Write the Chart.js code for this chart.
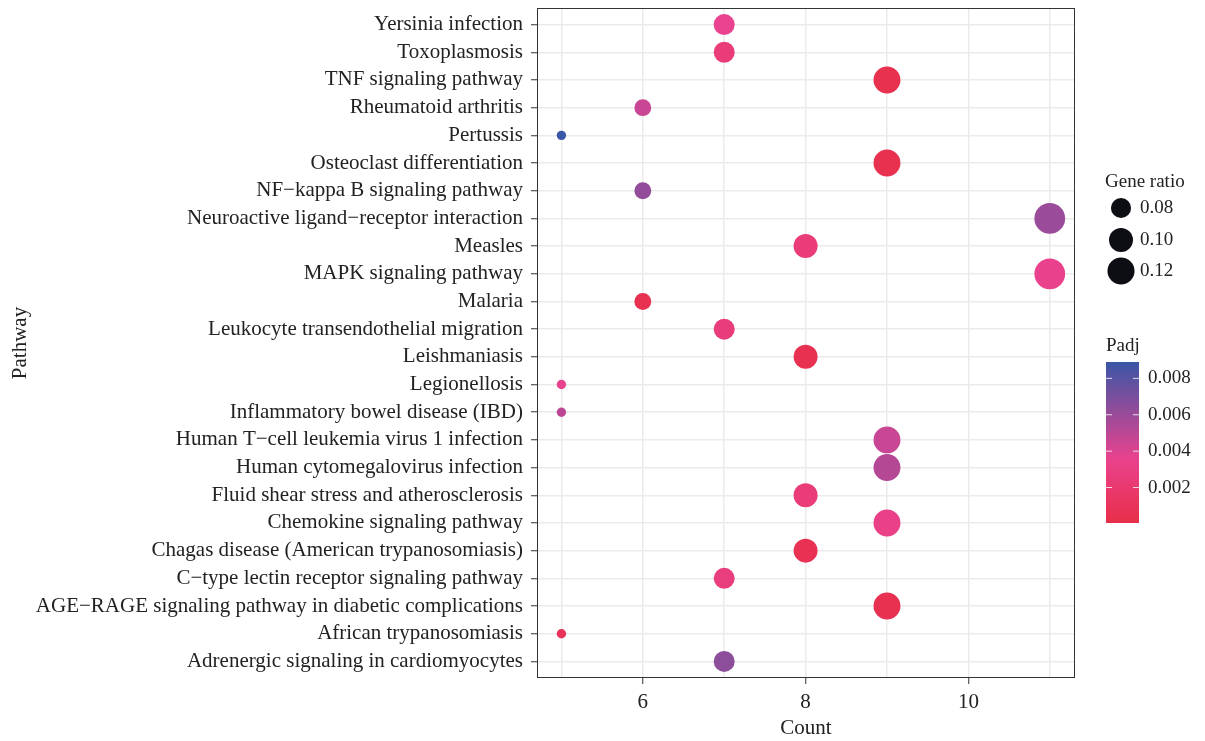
<!DOCTYPE html>
<html>
<head>
<meta charset="utf-8">
<script src="https://cdn.jsdelivr.net/npm/chart.js@4.4.1/dist/chart.umd.min.js"></script>
<style>
  html, body { margin: 0; padding: 0; background: #fff; }
  #wrap { width: 1205px; height: 741px; }
</style>
</head>
<body>
<div id="wrap"><canvas id="dotplot" width="1205" height="741"></canvas></div>
<script>
// Data
const pathways = [
  'Yersinia infection',
  'Toxoplasmosis',
  'TNF signaling pathway',
  'Rheumatoid arthritis',
  'Pertussis',
  'Osteoclast differentiation',
  'NF\u2212kappa B signaling pathway',
  'Neuroactive ligand\u2212receptor interaction',
  'Measles',
  'MAPK signaling pathway',
  'Malaria',
  'Leukocyte transendothelial migration',
  'Leishmaniasis',
  'Legionellosis',
  'Inflammatory bowel disease (IBD)',
  'Human T\u2212cell leukemia virus 1 infection',
  'Human cytomegalovirus infection',
  'Fluid shear stress and atherosclerosis',
  'Chemokine signaling pathway',
  'Chagas disease (American trypanosomiasis)',
  'C\u2212type lectin receptor signaling pathway',
  'AGE\u2212RAGE signaling pathway in diabetic complications',
  'African trypanosomiasis',
  'Adrenergic signaling in cardiomyocytes'
];
const counts = [7, 7, 9, 6, 5, 9, 6, 11, 8, 11, 6, 7, 8, 5, 5, 9, 9, 8, 9, 8, 7, 9, 5, 7];
const geneRatio = [0.084, 0.084, 0.119, 0.067, 0.051, 0.119, 0.067, 0.148, 0.100, 0.148, 0.067, 0.084,
                   0.100, 0.051, 0.051, 0.119, 0.119, 0.100, 0.119, 0.100, 0.084, 0.119, 0.051, 0.084];
const padj = [0.0036, 0.0025, 0.0004, 0.0046, 0.0089, 0.0004, 0.0062, 0.0060, 0.0025, 0.0035, 0.0005, 0.0026,
              0.0005, 0.0036, 0.0050, 0.0046, 0.0052, 0.0025, 0.0033, 0.0006, 0.0028, 0.0005, 0.0009, 0.0064];

const countTicks = [5, 6, 7, 8, 9, 10, 11];
const countLabels = [6, 8, 10];
const ratioBreaks = [0.08, 0.10, 0.12];
const padjBreaks = [0.002, 0.004, 0.006, 0.008];

const FONT = '"Liberation Serif", "Times New Roman", serif';
const FSIZE = 21;     // axis text
const LSIZE = 19;     // legend text
const TEXT = '#222';

// size scale (area style, like ggplot)
const gMin = 0.05, gMax = 0.15, dMin = 7, dMax = 31;
function diameterOf(g) {
  const t = Math.max(0, Math.min(1, (g - gMin) / (gMax - gMin)));
  return dMin + (dMax - dMin) * Math.sqrt(t);
}

// colour scale for Padj
const pMin = 0.00005, pMax = 0.0089;
const colorStops = [
  [0.0, [232, 46, 72]],
  [0.4, [233, 66, 142]],
  [1.0, [58, 86, 166]]
];
function colorOf(p) {
  const t = Math.max(0, Math.min(1, (p - pMin) / (pMax - pMin)));
  for (let i = 1; i < colorStops.length; i++) {
    if (t <= colorStops[i][0]) {
      const [t0, c0] = colorStops[i - 1];
      const [t1, c1] = colorStops[i];
      const f = (t - t0) / (t1 - t0);
      const c = c0.map((v, k) => Math.round(v + (c1[k] - v) * f));
      return 'rgb(' + c.join(',') + ')';
    }
  }
  return 'rgb(' + colorStops[colorStops.length - 1][1].join(',') + ')';
}

const points = pathways.map((p, i) => ({ x: counts[i], y: i, r: diameterOf(geneRatio[i]) / 2 }));

// panel border + legends
const extras = {
  id: 'extras',
  afterDraw(chart) {
    const ctx = chart.ctx;
    const a = chart.chartArea;
    ctx.save();
    ctx.strokeStyle = '#333';
    ctx.lineWidth = 1;
    ctx.strokeRect(a.left + 0.5, a.top + 0.5, a.right - a.left - 1, a.bottom - a.top - 1);

    // Gene ratio legend
    ctx.fillStyle = TEXT;
    ctx.font = LSIZE + 'px ' + FONT;
    ctx.textAlign = 'left';
    ctx.textBaseline = 'middle';
    ctx.fillText('Gene ratio', 1105, 182);
    const ys = [208, 240, 271];
    ratioBreaks.forEach((g, i) => {
      ctx.beginPath();
      ctx.fillStyle = '#0d0d14';
      ctx.arc(1121, ys[i], diameterOf(g) / 2, 0, Math.PI * 2);
      ctx.fill();
      ctx.fillStyle = TEXT;
      ctx.fillText(g.toFixed(2), 1140, ys[i]);
    });

    // Padj colour bar
    ctx.fillText('Padj', 1106, 346);
    const bx = 1106, bw = 33, top = 362, bottom = 523;
    const grad = ctx.createLinearGradient(0, bottom, 0, top);
    for (let k = 0; k <= 20; k++) {
      const p = pMin + (pMax - pMin) * k / 20;
      grad.addColorStop(k / 20, colorOf(p));
    }
    ctx.fillStyle = grad;
    ctx.fillRect(bx, top, bw, bottom - top);
    padjBreaks.forEach(p => {
      const y = bottom - (p - pMin) / (pMax - pMin) * (bottom - top);
      ctx.strokeStyle = 'rgba(255,255,255,0.8)';
      ctx.lineWidth = 1;
      ctx.beginPath();
      ctx.moveTo(bx, y); ctx.lineTo(bx + 6, y);
      ctx.moveTo(bx + bw - 6, y); ctx.lineTo(bx + bw, y);
      ctx.stroke();
      ctx.fillStyle = TEXT;
      ctx.fillText(p.toFixed(3), 1148, y);
    });
    ctx.restore();
  }
};

new Chart(document.getElementById('dotplot').getContext('2d'), {
  type: 'bubble',
  data: {
    datasets: [{
      label: 'Pathways',
      data: points,
      backgroundColor: ctx => colorOf(padj[ctx.dataIndex]),
      borderWidth: 0
    }]
  },
  options: {
    responsive: false,
    animation: false,
    devicePixelRatio: 1,
    layout: { autoPadding: false, padding: { left: 8, right: 130, top: 8, bottom: 0 } },
    plugins: {
      legend: { display: false },
      tooltip: { enabled: false }
    },
    scales: {
      x: {
        type: 'linear',
        min: 4.7,
        max: 11.31,
        afterBuildTicks: s => { s.ticks = countTicks.map(v => ({ value: v })); },
        afterFit: s => { s.height = 63; s.paddingLeft = 0; s.paddingRight = 0; },
        ticks: {
          callback: v => countLabels.includes(v) ? String(v) : '',
          font: { family: FONT, size: FSIZE },
          color: TEXT,
          padding: 6,
          autoSkip: false,
          maxRotation: 0
        },
        grid: {
          color: '#ebebeb',
          lineWidth: 1.5,
          tickLength: 6,
          tickWidth: 1,
          tickColor: ctx => (ctx.tick && countLabels.includes(ctx.tick.value)) ? '#333' : 'rgba(0,0,0,0)'
        },
        border: { display: false },
        title: {
          display: true,
          text: 'Count',
          font: { family: FONT, size: FSIZE },
          color: TEXT,
          padding: { top: 0, bottom: 0 }
        }
      },
      y: {
        type: 'linear',
        reverse: true,
        min: -0.6,
        max: 23.6,
        afterBuildTicks: s => { s.ticks = pathways.map((p, i) => ({ value: i })); },
        afterFit: s => { s.width = 537 - 8; s.paddingTop = 0; s.paddingBottom = 0; },
        ticks: {
          callback: v => pathways[v],
          font: { family: FONT, size: FSIZE },
          color: TEXT,
          padding: 8,
          autoSkip: false
        },
        grid: {
          color: '#ebebeb',
          lineWidth: 1.5,
          tickLength: 6,
          tickWidth: 1,
          tickColor: '#333'
        },
        border: { display: false },
        title: {
          display: true,
          text: 'Pathway',
          font: { family: FONT, size: FSIZE },
          color: TEXT,
          padding: 0
        }
      }
    }
  },
  plugins: [extras]
});
</script>
</body>
</html>
